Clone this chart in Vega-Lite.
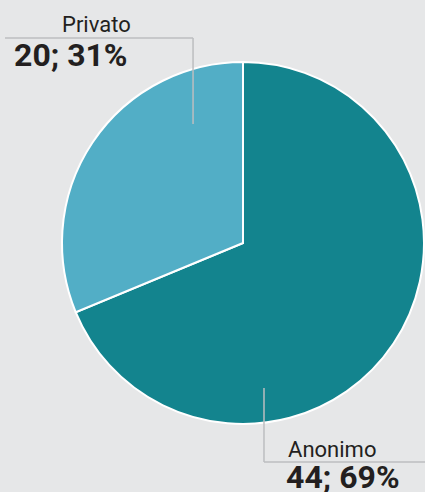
{
  "$schema": "https://vega.github.io/schema/vega-lite/v6.json",
  "width": 362,
  "height": 362,
  "autosize": {"type": "none"},
  "padding": {"left": 62, "top": 62, "right": 1, "bottom": 68},
  "background": "#e6e7e8",
  "config": {"view": {"stroke": null}},
  "datasets": {
    "slices": [
      {"tipo": "Anonimo", "n": 44},
      {"tipo": "Privato", "n": 20}
    ],
    "leaders": [
      {"tipo": "Privato", "x": -0.276, "y": 0.657, "x2": -0.276, "y2": 1.133},
      {"tipo": "Privato", "x": -1.315, "y": 1.133, "x2": -0.276, "y2": 1.133},
      {"tipo": "Anonimo", "x": 0.116, "y": -0.801, "x2": 0.116, "y2": -1.21},
      {"tipo": "Anonimo", "x": 0.116, "y": -1.21, "x2": 1.1, "y2": -1.21}
    ],
    "names": [
      {"label": "Privato", "x": -1.0, "y": 1.166},
      {"label": "Anonimo", "x": 0.249, "y": -1.182}
    ],
    "values": [
      {"label": "20; 31%", "x": -1.265, "y": 0.978},
      {"label": "44; 69%", "x": 0.238, "y": -1.356}
    ]
  },
  "layer": [
    {
      "data": {"name": "slices"},
      "mark": {"type": "arc", "stroke": "white", "strokeWidth": 2},
      "encoding": {
        "theta": {"field": "n", "type": "quantitative", "stack": true},
        "color": {
          "field": "tipo",
          "type": "nominal",
          "scale": {"domain": ["Anonimo", "Privato"], "range": ["#13848e", "#52aec6"]},
          "legend": null
        },
        "order": {"field": "n", "type": "quantitative", "sort": "descending"}
      }
    },
    {
      "data": {"name": "leaders"},
      "mark": {"type": "rule", "color": "#bcbec0", "strokeWidth": 1.5},
      "encoding": {
        "x": {"field": "x", "type": "quantitative", "scale": {"domain": [-1, 1], "nice": false, "zero": false}, "axis": null},
        "y": {"field": "y", "type": "quantitative", "scale": {"domain": [-1, 1], "nice": false, "zero": false}, "axis": null},
        "x2": {"field": "x2"},
        "y2": {"field": "y2"}
      }
    },
    {
      "data": {"name": "names"},
      "mark": {"type": "text", "align": "left", "baseline": "alphabetic", "font": "Roboto", "fontSize": 22, "color": "#231f20"},
      "encoding": {
        "x": {"field": "x", "type": "quantitative", "axis": null},
        "y": {"field": "y", "type": "quantitative", "axis": null},
        "text": {"field": "label"}
      }
    },
    {
      "data": {"name": "values"},
      "mark": {"type": "text", "align": "left", "baseline": "alphabetic", "font": "Roboto", "fontSize": 32, "fontWeight": "bold", "color": "#231f20"},
      "encoding": {
        "x": {"field": "x", "type": "quantitative", "axis": null},
        "y": {"field": "y", "type": "quantitative", "axis": null},
        "text": {"field": "label"}
      }
    }
  ]
}
